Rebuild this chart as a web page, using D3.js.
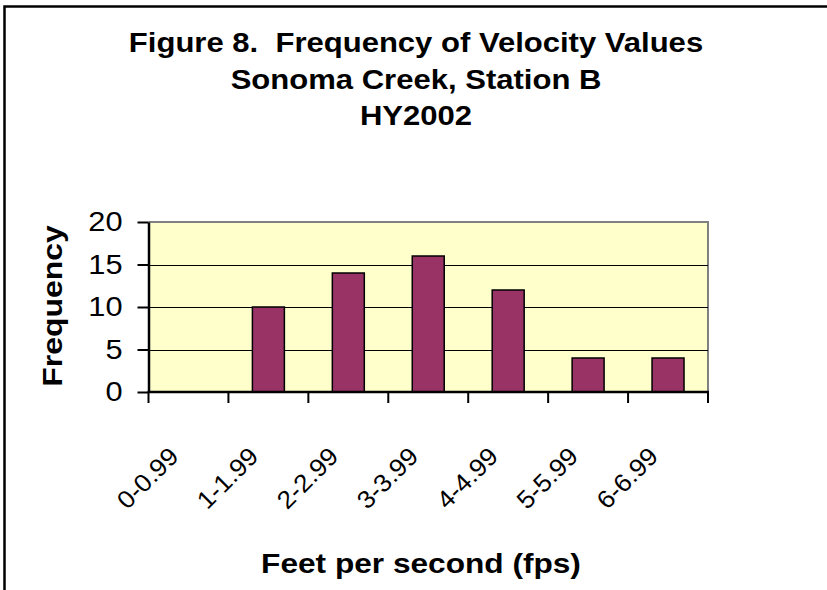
<!DOCTYPE html>
<html><head><meta charset="utf-8">
<script src="https://cdn.jsdelivr.net/npm/d3@7"></script>
<style>body{margin:0;background:#fff}svg{display:block}text{white-space:pre}</style>
</head><body>
<script>
const categories = ["0-0.99","1-1.99","2-2.99","3-3.99","4-4.99","5-5.99","6-6.99"];
const frequency = [0, 10, 14, 16, 12, 4, 4];
const yTicks = [0, 5, 10, 15, 20];
const titleLines = ["Figure 8.  Frequency of Velocity Values","Sonoma Creek, Station B","HY2002"];

const W = 827, H = 590;
const FONT = "Arial, 'Liberation Sans', sans-serif";
const SX = 1.14;
const svg = d3.select("body").append("svg").attr("width", W).attr("height", H);
svg.append("rect").attr("x",0).attr("y",0).attr("width",W).attr("height",H).attr("fill","#fff");
svg.append("rect").attr("x",4.5).attr("y",6.5).attr("width",W+10).attr("height",H+10)
  .attr("fill","none").attr("stroke","#000").attr("stroke-width",2.5);

const L = 148.5, R = 708, T = 222, B = 392;
const x = d3.scaleBand().domain(categories).range([L, R]).paddingInner(0).paddingOuter(0);
const y = d3.scaleLinear().domain([0, 20]).range([B, T]);

svg.append("rect").attr("x",L).attr("y",T).attr("width",R-L).attr("height",B-T).attr("fill","#FFFFCC");
svg.append("path").attr("d",`M${L},${T}H${R}V${B}`).attr("fill","none").attr("stroke","#808080").attr("stroke-width",2);

svg.append("g").selectAll("line").data(yTicks.filter(d=>d>0 && d<20)).join("line")
  .attr("x1",L).attr("x2",R).attr("y1",d=>Math.round(y(d))+0.5).attr("y2",d=>Math.round(y(d))+0.5)
  .attr("stroke","#000").attr("stroke-width",1);

const bw = x.bandwidth()/2.5;
svg.append("g").selectAll("rect").data(categories).join("rect")
  .attr("x",(d)=>x(d)+x.bandwidth()/2-bw/2)
  .attr("y",(d,i)=>y(frequency[i]))
  .attr("width",bw)
  .attr("height",(d,i)=>B-y(frequency[i]))
  .attr("fill","#993366").attr("stroke","#000").attr("stroke-width",1.5)
  .attr("display",(d,i)=>frequency[i]>0?null:"none");

const yAxis = d3.axisLeft(y).tickValues(yTicks).tickSize(11).tickPadding(7).tickSizeOuter(0);
const gy = svg.append("g").attr("transform",`translate(${L},0)`).call(yAxis);
gy.select(".domain").attr("stroke","#000").attr("stroke-width",2.5);
gy.selectAll(".tick line").attr("stroke","#000").attr("stroke-width",2);
gy.selectAll(".tick text").attr("x",0).attr("transform",`translate(-26,0) scale(${SX},1)`)
  .attr("font-family",FONT).attr("font-size",27).attr("fill","#000");

const xTickPos = categories.map(c=>x(c)).concat([R]);
svg.append("line").attr("x1",L-1).attr("x2",R+1).attr("y1",B).attr("y2",B).attr("stroke","#000").attr("stroke-width",2.5);
svg.append("g").selectAll("line").data(xTickPos).join("line")
  .attr("x1",d=>d).attr("x2",d=>d).attr("y1",B).attr("y2",B+11).attr("stroke","#000").attr("stroke-width",2);

svg.append("g").selectAll("text").data(categories).join("text")
  .attr("transform",d=>`translate(${x(d)+x.bandwidth()/2-8.5},${B+66}) rotate(-45) scale(1.05,1)`)
  .attr("text-anchor","end")
  .attr("font-family",FONT).attr("font-size",25).attr("fill","#000")
  .text(d=>d);

const baselines = [52, 88.5, 125];
svg.append("g").selectAll("text").data(titleLines).join("text")
  .attr("transform",(d,i)=>`translate(416,${baselines[i]}) scale(1.15,1)`).attr("text-anchor","middle")
  .attr("font-family",FONT).attr("font-weight","bold").attr("font-size",27)
  .text(d=>d);

svg.append("text").attr("transform",`translate(62,306) rotate(-90) scale(${SX},1)`).attr("text-anchor","middle")
  .attr("font-family",FONT).attr("font-weight","bold").attr("font-size",28)
  .text("Frequency");

svg.append("text").attr("transform",`translate(421,573) scale(1.13,1)`).attr("text-anchor","middle")
  .attr("font-family",FONT).attr("font-weight","bold").attr("font-size",28)
  .text("Feet per second (fps)");
</script>
</body></html>
